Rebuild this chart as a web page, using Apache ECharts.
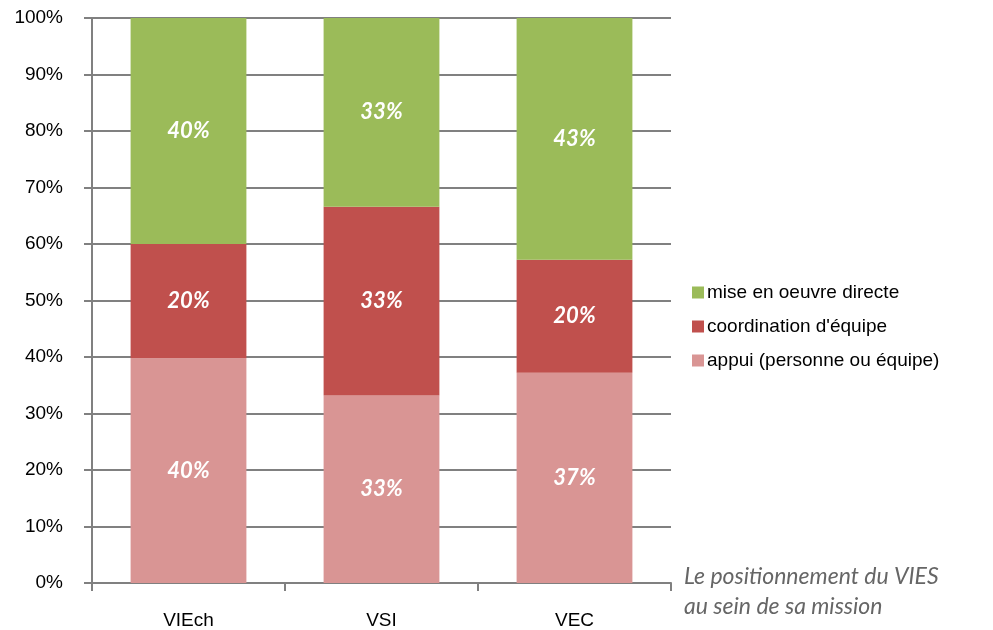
<!DOCTYPE html>
<html>
<head>
<meta charset="utf-8">
<script src="https://cdn.jsdelivr.net/npm/echarts@6/dist/echarts.min.js"></script>
<style>
  html, body { margin: 0; padding: 0; background: #fff; }
  #chart { width: 993px; height: 630px; }
</style>
</head>
<body>
<div id="chart"></div>
<script>
const categories = ["VIEch", "VSI", "VEC"];
const appui = [39.8, 33.2, 37.2];
const coordination = [20.2, 33.4, 20.0];
const miseEnOeuvre = [40.0, 33.4, 42.8];
const yTicks = [0, 10, 20, 30, 40, 50, 60, 70, 80, 90, 100];

const chart = echarts.init(document.getElementById("chart"));

const label = {
  show: true,
  color: "#fff",
  fontFamily: "Lato",
  fontStyle: "italic",
  fontWeight: "bold",
  fontSize: 22,
  formatter: (p) => Math.round(p.value) + "%"
};

chart.setOption({
  animation: false,
  grid: { left: 92, right: 322, top: 18, bottom: 46 },
  legend: {
    orient: "vertical",
    left: 687,
    top: 278,
    icon: "rect",
    itemWidth: 12,
    itemHeight: 12,
    itemGap: 15,
    textStyle: { fontFamily: "Liberation Sans", fontSize: 19, color: "#000", padding: [0, 0, 0, -2] },
    data: ["mise en oeuvre directe", "coordination d'équipe", "appui (personne ou équipe)"]
  },
  graphic: [
    {
      type: "text",
      left: 684,
      top: 562,
      style: {
        text: "Le positionnement du VIES\nau sein de sa mission",
        fontFamily: "Lato",
        fontStyle: "italic",
        fontSize: 23,
        lineHeight: 30,
        fill: "#666"
      }
    }
  ],
  xAxis: {
    type: "category",
    data: categories,
    axisLine: { lineStyle: { color: "#808080", width: 2 } },
    axisTick: { show: true, length: 8, lineStyle: { color: "#808080", width: 2 } },
    axisLabel: { fontFamily: "Liberation Sans", fontSize: 19, color: "#000", margin: 28 }
  },
  yAxis: {
    type: "value",
    min: 0,
    max: 100,
    interval: 10,
    axisLine: { show: true, lineStyle: { color: "#808080", width: 2 } },
    axisTick: { show: true, length: 8, lineStyle: { color: "#808080", width: 2 } },
    splitLine: { lineStyle: { color: "#808080", width: 2 } },
    axisLabel: {
      fontFamily: "Liberation Sans",
      fontSize: 19,
      color: "#000",
      margin: 29,
      formatter: (v) => (yTicks.includes(v) ? v + "%" : "")
    }
  },
  series: [
    {
      name: "appui (personne ou équipe)",
      type: "bar",
      stack: "total",
      barWidth: "60%",
      data: appui,
      itemStyle: { color: "#D99594" },
      label: label
    },
    {
      name: "coordination d'équipe",
      type: "bar",
      stack: "total",
      data: coordination,
      itemStyle: { color: "#C0504D" },
      label: label
    },
    {
      name: "mise en oeuvre directe",
      type: "bar",
      stack: "total",
      data: miseEnOeuvre,
      itemStyle: { color: "#9BBB59" },
      label: label
    }
  ]
});
</script>
</body>
</html>
